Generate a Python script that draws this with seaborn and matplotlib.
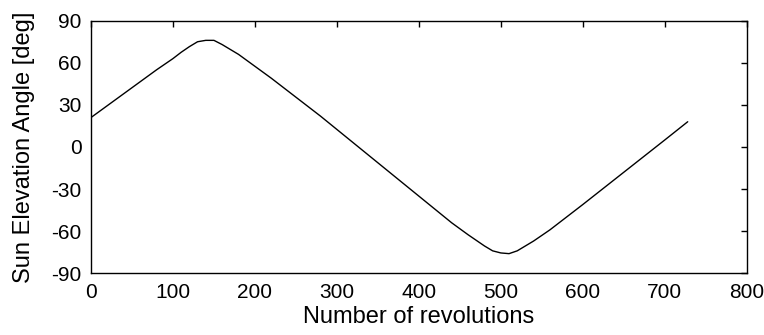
import matplotlib
matplotlib.use("Agg")
import matplotlib.pyplot as plt
import seaborn as sns
import pandas as pd

# Sun elevation angle sampled against the revolution count
revolutions = [0, 20, 40, 60, 80, 100, 110, 120, 130, 140, 150, 160, 170, 180,
               200, 220, 240, 260, 280, 300, 320, 340, 360, 380, 400, 420, 440,
               460, 470, 480, 490, 500, 510, 520, 530, 540, 560, 580, 600, 620,
               640, 660, 680, 700, 728]
elevation_deg = [21, 29.5, 38, 46.5, 55, 63, 67.5, 71.5, 75, 76, 76, 73, 69.5, 66,
                 57.5, 49, 40, 31, 22, 12.5, 3, -6.5, -16, -25.5, -35, -44.5, -54,
                 -62.5, -66.5, -70.5, -74, -75.5, -76, -74, -70.5, -67, -59, -50,
                 -41, -31.8, -22.6, -13.4, -4.2, 5, 18]

x_ticks = [0, 100, 200, 300, 400, 500, 600, 700, 800]
y_ticks = [-90, -60, -30, 0, 30, 60, 90]

df = pd.DataFrame({"rev": revolutions, "elev": elevation_deg})

sns.set_theme(style="white")
plt.rcParams["font.family"] = ["Liberation Sans", "DejaVu Sans"]

fig = plt.figure(figsize=(7.64, 3.35), dpi=100)
ax = fig.add_axes([0.1191, 0.1842, 0.8583, 0.754])

sns.lineplot(data=df, x="rev", y="elev", ax=ax, color="black", linewidth=1.0)

ax.set_xlim(0, 800)
ax.set_ylim(-90, 90)
ax.set_xticks(x_ticks)
ax.set_yticks(y_ticks)
ax.set_xticklabels([str(v) for v in x_ticks])
ax.set_yticklabels([str(v) for v in y_ticks])

ax.tick_params(direction="in", length=4, width=1, top=True, right=True,
               colors="black", labelsize=15, pad=6.8)
for spine in ax.spines.values():
    spine.set_visible(True)
    spine.set_color("black")
    spine.set_linewidth(1)

ax.set_xlabel("Number of revolutions", fontsize=17, color="black", labelpad=3)
ax.set_ylabel("Sun Elevation Angle [deg]", fontsize=17, color="black", labelpad=12)

fig.patch.set_facecolor("white")
ax.set_facecolor("white")
fig.savefig("out.png", dpi=100, facecolor="white")
